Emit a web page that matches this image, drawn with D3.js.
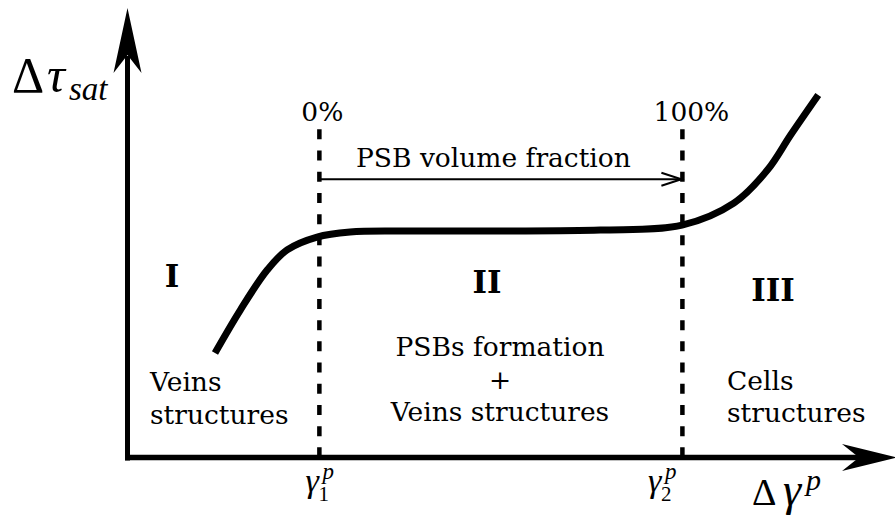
<!DOCTYPE html>
<html>
<head>
<meta charset="utf-8">
<script src="https://cdn.jsdelivr.net/npm/d3@7"></script>
<style>
  body { margin: 0; background: #fff; }
</style>
</head>
<body>
<div id="vis"></div>
<script>
// saturation stress curve (arbitrary units, 0..1 on both axes)
const strainAmp = [0.114, 0.147, 0.182, 0.208, 0.247, 0.290, 0.355, 0.485, 0.616, 0.7225, 0.790, 0.834, 0.864, 0.900];
const satStress = [0.2325, 0.328, 0.417, 0.462, 0.4905, 0.5017, 0.504, 0.504, 0.506, 0.517, 0.566, 0.640, 0.7175, 0.8065];

// transition strains gamma_1^p and gamma_2^p
const thresholds = [0.25, 0.723];
const thresholdSubs = ['1', '2'];
const fractionLabels = ['0%', '100%'];

const regionNames = ['I', 'II', 'III'];
const regionText = [
  ['Veins', 'structures'],
  ['PSBs formation', '+', 'Veins structures'],
  ['Cells', 'structures']
];

const width = 895;
const height = 517;
const SERIF = 'DejaVu Serif';
const MATH = 'Liberation Serif';

const svg = d3.select('#vis')
  .append('svg')
    .attr('width', width)
    .attr('height', height);

const x = d3.scaleLinear().domain([0, 1]).range([127.5, 895]);
const y = d3.scaleLinear().domain([0, 1]).range([457.5, 8]);

const pts = strainAmp.map((d, i) => [d, satStress[i]]);

function label(tx, ty, t, anchor) {
  return svg.append('text')
    .attr('x', tx)
    .attr('y', ty)
    .attr('text-anchor', anchor || 'start')
    .style('font-family', SERIF)
    .style('font-size', '26.5px')
    .attr('fill', '#000')
    .text(t);
}

function mathText(tx, ty, t, size, italic) {
  return svg.append('text')
    .attr('x', tx)
    .attr('y', ty)
    .style('font-family', MATH)
    .style('font-size', size + 'px')
    .style('font-style', italic ? 'italic' : 'normal')
    .text(t);
}

// axes with notched arrowheads
const x0 = x(0), y0 = y(0);
svg.append('line')
  .attr('x1', x0).attr('x2', x0)
  .attr('y1', y0 + 3).attr('y2', 56)
  .attr('stroke', '#000').attr('stroke-width', 5);
svg.append('path')
  .attr('d', `M${x0},8 L${x0 + 14},73 L${x0},55 L${x0 - 14},73 Z`)
  .attr('fill', '#000');

svg.append('line')
  .attr('x1', x0 - 2.5).attr('x2', 860)
  .attr('y1', y0).attr('y2', y0)
  .attr('stroke', '#000').attr('stroke-width', 5.5);
svg.append('path')
  .attr('d', `M897,${y0} L842,${y0 - 13.5} L859,${y0} L842,${y0 + 13.5} Z`)
  .attr('fill', '#000');

// dashed transition lines
svg.selectAll('.thr')
  .data(thresholds)
  .join('line')
    .attr('class', 'thr')
    .attr('x1', d => x(d)).attr('x2', d => x(d))
    .attr('y1', y(0.73)).attr('y2', y0)
    .attr('stroke', '#000')
    .attr('stroke-width', 4.5)
    .attr('stroke-dasharray', '10,11.2');

// curve
const line = d3.line()
  .x(d => x(d[0]))
  .y(d => y(d[1]))
  .curve(d3.curveCatmullRom.alpha(0.5));

svg.append('path')
  .datum(pts)
  .attr('d', line)
  .attr('fill', 'none')
  .attr('stroke', '#000')
  .attr('stroke-width', 7);

// PSB volume fraction arrow
const ay = y(0.619);
const ax1 = x(thresholds[1]) - 1;
svg.append('line')
  .attr('x1', x(thresholds[0])).attr('x2', ax1)
  .attr('y1', ay).attr('y2', ay)
  .attr('stroke', '#000').attr('stroke-width', 2);
svg.append('path')
  .attr('d', `M${ax1 - 20},${ay - 6.5} L${ax1},${ay} L${ax1 - 20},${ay + 6.5}`)
  .attr('fill', 'none')
  .attr('stroke', '#000').attr('stroke-width', 2);

label(356, 167, 'PSB volume fraction');

fractionLabels.forEach((d, i) => {
  label(x(thresholds[i]) + 3 + i * 6, 121, d, 'middle');
});

// region numerals and descriptions
const regionX = [172, 487, 773];
const regionY = [287, 293, 301];
regionNames.forEach((d, i) => {
  svg.append('text')
    .attr('x', regionX[i])
    .attr('y', regionY[i])
    .attr('text-anchor', 'middle')
    .style('font-family', SERIF)
    .style('font-size', '31px')
    .style('font-weight', 'bold')
    .text(d);
});

const descX = [150, 500, 727];
const descAnchor = ['start', 'middle', 'start'];
const descY = [[391, 424], [356, 389, 421], [390, 422]];
regionText.forEach((lines, i) => {
  lines.forEach((t, j) => label(descX[i], descY[i][j], t, descAnchor[i]));
});

// gamma_i^p tick labels
const gammaShift = [-14, -34.5];
thresholds.forEach((d, i) => {
  const gx = x(d) + gammaShift[i];
  mathText(gx, 492, 'γ', 34, true);
  mathText(gx + 13, 501, thresholdSubs[i], 21, false);
  mathText(gx + 17, 479, 'p', 23, true);
});

// axis titles
mathText(12, 92, 'Δ', 50, false);
mathText(47, 92, 'τ', 50, true);
mathText(69, 100, 'sat', 33, true);

mathText(752, 505, 'Δ', 38, false);
mathText(783, 505, 'γ', 46, true);
mathText(806, 490, 'p', 30, true);
</script>
</body>
</html>
